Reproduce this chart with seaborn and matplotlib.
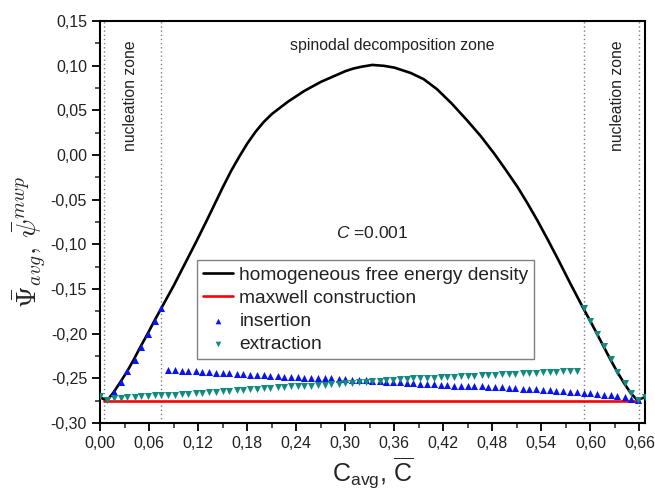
import matplotlib
matplotlib.use("Agg")
import matplotlib.pyplot as plt
import matplotlib.ticker as mticker
import numpy as np
import pandas as pd
import seaborn as sns

# ---------------- data ----------------
curve_c = [0.000, 0.008, 0.016, 0.024, 0.033, 0.041, 0.049, 0.058, 0.066, 0.075,
           0.090, 0.104, 0.118, 0.131, 0.140, 0.150, 0.160, 0.170, 0.180, 0.190,
           0.200, 0.210, 0.220, 0.230, 0.240, 0.250, 0.260, 0.270, 0.280, 0.290,
           0.300, 0.310, 0.320, 0.333, 0.347, 0.360, 0.380, 0.396, 0.412, 0.430,
           0.449, 0.466, 0.482, 0.496, 0.511, 0.523, 0.535, 0.548, 0.560, 0.575,
           0.591, 0.600, 0.608, 0.616, 0.624, 0.633, 0.641, 0.649, 0.657, 0.667]
curve_psi = [-0.271, -0.275, -0.266, -0.255, -0.242, -0.229, -0.215, -0.200, -0.186, -0.171,
             -0.146, -0.121, -0.096, -0.072, -0.055, -0.036, -0.018, -0.002, 0.013, 0.026,
             0.037, 0.046, 0.053, 0.060, 0.066, 0.072, 0.077, 0.082, 0.086, 0.090,
             0.094, 0.097, 0.099, 0.101, 0.100, 0.098, 0.092, 0.085, 0.074, 0.058,
             0.039, 0.021, 0.002, -0.016, -0.036, -0.054, -0.073, -0.095, -0.116, -0.143,
             -0.171, -0.186, -0.200, -0.214, -0.228, -0.243, -0.255, -0.266, -0.274, -0.271]

maxwell_c = [0.005, 0.660]
maxwell_psi = [-0.275, -0.275]

insertion_c = [0.017, 0.025, 0.033, 0.042, 0.050, 0.058, 0.067, 0.075,
               0.083, 0.092, 0.100, 0.108, 0.117, 0.125, 0.133, 0.142, 0.150, 0.158,
               0.167, 0.175, 0.183, 0.192, 0.200, 0.208, 0.217, 0.225, 0.233, 0.242,
               0.250, 0.258, 0.267, 0.275, 0.283, 0.292, 0.300, 0.308, 0.317, 0.325,
               0.333, 0.342, 0.350, 0.358, 0.367, 0.375, 0.383, 0.392, 0.400, 0.408,
               0.417, 0.425, 0.433, 0.442, 0.450, 0.458, 0.467, 0.475, 0.483, 0.492,
               0.500, 0.508, 0.517, 0.525, 0.533, 0.542, 0.550, 0.558, 0.567, 0.575,
               0.583, 0.592, 0.600, 0.608, 0.617, 0.625, 0.633, 0.642, 0.650, 0.658]
insertion_psi = [-0.265, -0.254, -0.242, -0.229, -0.215, -0.200, -0.186, -0.171,
                 -0.241, -0.241, -0.242, -0.242, -0.242, -0.243, -0.243, -0.244, -0.244, -0.244,
                 -0.245, -0.245, -0.246, -0.246, -0.246, -0.247, -0.247, -0.248, -0.248, -0.248,
                 -0.249, -0.249, -0.250, -0.250, -0.250, -0.251, -0.251, -0.252, -0.252, -0.252,
                 -0.253, -0.253, -0.254, -0.254, -0.254, -0.255, -0.255, -0.256, -0.256, -0.256,
                 -0.257, -0.257, -0.258, -0.258, -0.258, -0.259, -0.259, -0.260, -0.260, -0.260,
                 -0.261, -0.261, -0.262, -0.262, -0.262, -0.263, -0.263, -0.264, -0.264, -0.265,
                 -0.265, -0.266, -0.266, -0.267, -0.268, -0.269, -0.270, -0.271, -0.273, -0.274]

extraction_c = [0.000, 0.008, 0.017, 0.025, 0.033, 0.042, 0.050, 0.058, 0.067, 0.075,
                0.083, 0.092, 0.100, 0.108, 0.117, 0.125, 0.133, 0.142, 0.150, 0.158,
                0.167, 0.175, 0.183, 0.192, 0.200, 0.208, 0.217, 0.225, 0.233, 0.242,
                0.250, 0.258, 0.267, 0.275, 0.283, 0.292, 0.300, 0.308, 0.317, 0.325,
                0.333, 0.342, 0.350, 0.358, 0.367, 0.375, 0.383, 0.392, 0.400, 0.408,
                0.417, 0.425, 0.433, 0.442, 0.450, 0.458, 0.467, 0.475, 0.483, 0.492,
                0.500, 0.508, 0.517, 0.525, 0.533, 0.542, 0.550, 0.558, 0.567, 0.575,
                0.583, 0.592, 0.600, 0.608, 0.617, 0.625, 0.633, 0.642, 0.650, 0.658,
                0.667]
extraction_psi = [-0.270, -0.274, -0.272, -0.272, -0.271, -0.271, -0.270, -0.270, -0.269, -0.269,
                  -0.268, -0.268, -0.267, -0.267, -0.266, -0.266, -0.265, -0.265, -0.264, -0.264,
                  -0.263, -0.263, -0.262, -0.262, -0.261, -0.261, -0.260, -0.260, -0.259, -0.259,
                  -0.258, -0.258, -0.257, -0.257, -0.256, -0.256, -0.255, -0.255, -0.254, -0.254,
                  -0.253, -0.253, -0.252, -0.252, -0.251, -0.251, -0.250, -0.250, -0.249, -0.249,
                  -0.248, -0.248, -0.248, -0.247, -0.247, -0.247, -0.246, -0.246, -0.246, -0.245,
                  -0.245, -0.245, -0.244, -0.244, -0.244, -0.243, -0.243, -0.243, -0.242, -0.242,
                  -0.242, -0.171, -0.186, -0.200, -0.214, -0.228, -0.243, -0.255, -0.266, -0.274,
                  -0.271]

zone_bounds = [0.005, 0.075, 0.592, 0.660]

# ---------------- style ----------------
sns.set_style("white")
plt.rcParams['font.family'] = ['Liberation Sans', 'DejaVu Sans']
plt.rcParams['mathtext.fontset'] = 'custom'
plt.rcParams['mathtext.rm'] = 'Liberation Sans'
plt.rcParams['mathtext.it'] = 'Liberation Sans:italic'
plt.rcParams['mathtext.bf'] = 'Liberation Sans:bold'

fig = plt.figure(figsize=(6.55, 4.92), dpi=100)
ax = fig.add_axes([0.153, 0.140, 0.832, 0.817])

curve_df = pd.DataFrame({"c": curve_c, "psi": curve_psi})
maxwell_df = pd.DataFrame({"c": maxwell_c, "psi": maxwell_psi})
ins_df = pd.DataFrame({"c": insertion_c, "psi": insertion_psi})
ext_df = pd.DataFrame({"c": extraction_c, "psi": extraction_psi})

for xb in zone_bounds:
    ax.axvline(xb, color='#808080', linestyle=(0, (1, 2)), linewidth=1.0, zorder=1)

sns.lineplot(data=curve_df, x="c", y="psi", color="black", linewidth=1.9,
             label="homogeneous free energy density", ax=ax, sort=False, zorder=3)
sns.lineplot(data=maxwell_df, x="c", y="psi", color="#ff0000", linewidth=1.9,
             label="maxwell construction", ax=ax, sort=False, zorder=3)
sns.scatterplot(data=ins_df, x="c", y="psi", marker="^", color="#0a14f0", s=26,
                linewidth=0, label="insertion", ax=ax, zorder=4)
sns.scatterplot(data=ext_df, x="c", y="psi", marker="v", color="#138a80", s=26,
                linewidth=0, label="extraction", ax=ax, zorder=4)

ax.set_xlim(0, 0.667)
ax.set_ylim(-0.30, 0.15)

fmt = mticker.FuncFormatter(lambda v, p: ("%.2f" % (0.0 if abs(v) < 1e-9 else v)).replace('.', ','))
ax.xaxis.set_major_locator(mticker.MultipleLocator(0.06))
ax.xaxis.set_minor_locator(mticker.MultipleLocator(0.03))
ax.yaxis.set_major_locator(mticker.MultipleLocator(0.05))
ax.yaxis.set_minor_locator(mticker.MultipleLocator(0.025))
ax.xaxis.set_major_formatter(fmt)
ax.yaxis.set_major_formatter(fmt)
ax.tick_params(axis='both', which='major', direction='out', length=6, width=1.3,
               labelsize=11.5, color='black', labelcolor='#222222',
               bottom=True, left=True, top=False, right=False)
ax.tick_params(axis='both', which='minor', direction='out', length=3.5, width=1.1,
               bottom=True, left=True, top=False, right=False)
for sp in ax.spines.values():
    sp.set_visible(True)
    sp.set_color('black')
    sp.set_linewidth(1.5)

ax.set_xlabel(r'C$_{\mathrm{avg}}$, $\overline{\mathrm{C}}$', fontsize=18)
ax.xaxis.set_label_coords(0.5, -0.08)
ax.set_ylabel(r'$\bar{\Psi}_{avg},\,\bar{\psi}^{mwp}$', fontsize=20,
              math_fontfamily='cm')
ax.yaxis.set_label_coords(-0.095, 0.45)

ax.text(0.037, 0.067, 'nucleation zone', rotation=90, ha='center', va='center',
        fontsize=11.3, color='#222222')
ax.text(0.633, 0.067, 'nucleation zone', rotation=90, ha='center', va='center',
        fontsize=11.3, color='#222222')
ax.text(0.357, 0.123, 'spinodal decomposition zone', ha='center', va='center',
        fontsize=11.4, color='#222222')
ax.text(0.333, -0.087, r'$C$ =0.001', ha='center', va='center', fontsize=12.5,
        color='#222222')

leg = ax.legend(loc='lower left', bbox_to_anchor=(0.178, 0.16), fontsize=13.8,
                frameon=True, fancybox=False, framealpha=1, edgecolor='#808080',
                handlelength=1.55, handletextpad=0.35, labelspacing=0.3,
                borderpad=0.3, borderaxespad=0.0, markerscale=0.8)
for t in leg.get_texts():
    t.set_color('#222222')
leg.get_frame().set_linewidth(1.0)

fig.savefig("out.png", dpi=100)
